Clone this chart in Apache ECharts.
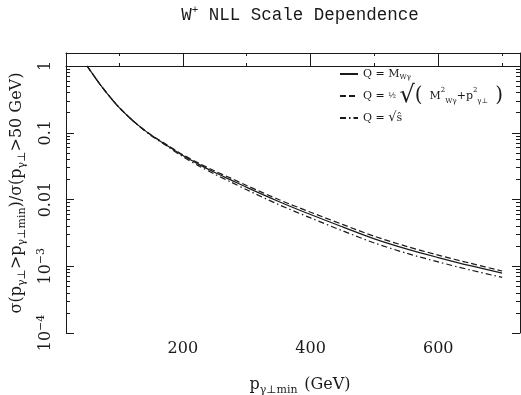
<!DOCTYPE html>
<html>
<head>
<meta charset="utf-8">
<script src="https://cdn.jsdelivr.net/npm/echarts@6.0.0/dist/echarts.min.js"></script>
<style>html,body{margin:0;padding:0;background:#fff}#c{width:521px;height:395px}</style>
</head>
<body>
<div id="c"></div>
<script>
// ---- data ----
const pT = [50, 60, 70, 80, 90, 100, 115, 130, 150, 175, 200, 225, 250, 275, 300, 350, 400, 450, 500, 550, 600, 650, 700];
const qMWg = [1.0, 0.73, 0.537, 0.403, 0.309, 0.240, 0.174, 0.130, 0.0923, 0.0646, 0.0455, 0.0336, 0.0254, 0.0197, 0.0152, 0.00935, 0.00595, 0.00389, 0.00257, 0.00182, 0.00135, 0.00102, 0.00079];
const qHalfSqrt = [1.0, 0.73, 0.537, 0.403, 0.309, 0.240, 0.174, 0.130, 0.0935, 0.066, 0.0468, 0.0350, 0.0267, 0.0209, 0.0162, 0.0100, 0.00645, 0.00424, 0.00281, 0.00199, 0.00147, 0.00111, 0.00085];
const qSqrtS = [1.0, 0.73, 0.537, 0.403, 0.309, 0.240, 0.173, 0.129, 0.091, 0.0632, 0.0438, 0.0319, 0.0239, 0.0183, 0.0140, 0.0084, 0.0053, 0.0034, 0.00223, 0.00157, 0.00116, 0.00088, 0.00068];
const seriesNames = ['Q = M_Wg', 'Q = half sqrt', 'Q = sqrt s'];
const xMajorTicks = [200, 400, 600];
const xMinorTicks = [100, 300, 500, 700];

const X_MIN = 17, X_MAX = 728;
const Y_MIN = 1e-4, Y_MAX = 1.567;
const LMIN = Math.log10(Y_MIN), LMAX = Math.log10(Y_MAX);
const yMinorLog = [];
for (let n = -4; n <= 0; n++) for (let k = 2; k <= 9; k++) {
  const v = Math.log10(k) + n; if (v < LMAX) yMinorLog.push(v);
}

const SERIF = '"DejaVu Serif", "Liberation Serif", serif';
const INK = '#1a1a1a';

const legendText = {};
legendText[seriesNames[0]] = 'Q = M{sub|Wγ}';
legendText[seriesNames[1]] = 'Q = {fr|½} {big|√}{par|(}  M{sup|2}{sub|Wγ}+p{sup|2}{sub|γ⊥}  {par|)}';
legendText[seriesNames[2]] = 'Q = {big2|√}ŝ';

function ylab(v) {
  const e = Math.round(Math.log10(v));
  if (e === 0) return '{b|1}';
  if (e === -1) return '{b|0.1}';
  if (e === -2) return '{b|0.01}';
  return '{b|10}{s|−' + (-e) + '}';
}

const chart = echarts.init(document.getElementById('c'), null, {renderer: 'canvas'});
const axisLine = {show: true, lineStyle: {color: INK, width: 1}};
function xAx(pos, major, withLabel) {
  return {
    type: 'value', min: X_MIN, max: X_MAX, position: pos,
    axisLine: major ? axisLine : {show: false},
    splitLine: {show: false},
    axisTick: {show: true, inside: true, length: major ? 7 : 3, customValues: major ? xMajorTicks : xMinorTicks, lineStyle: {color: INK}},
    axisLabel: withLabel ? {show: true, customValues: xMajorTicks, fontFamily: SERIF, fontSize: 16, color: INK, margin: 8} : {show: false},
    name: withLabel ? '{b|p}{s|γ⊥min}  {b|(GeV)}' : '',
    nameLocation: 'middle', nameGap: 41,
    nameTextStyle: withLabel ? {padding: [0, 0, 0, 14], rich: {b: {fontFamily: SERIF, fontSize: 16, color: INK, lineHeight: 22}, s: {fontFamily: SERIF, fontSize: 11, color: INK, verticalAlign: 'bottom', lineHeight: 9}}} : {}
  };
}
function yLogAx(pos, withLabel) {
  return {
    type: 'log', logBase: 10, min: Y_MIN, max: Y_MAX, position: pos,
    axisLine: axisLine, splitLine: {show: false}, minorTick: {show: false},
    axisTick: {show: true, inside: true, length: 8, lineStyle: {color: INK}},
    axisLabel: withLabel ? {
      show: true, rotate: 90, margin: 10, showMaxLabel: false, formatter: ylab,
      rich: {b: {fontFamily: SERIF, fontSize: 16, color: INK, lineHeight: 20}, s: {fontFamily: SERIF, fontSize: 11, color: INK, verticalAlign: 'top', lineHeight: 10}}
    } : {show: false},
    name: withLabel ? 'σ(p{s|γ⊥}>p{s|γ⊥min})/σ(p{s|γ⊥}>50 GeV)' : '',
    nameLocation: 'middle', nameGap: 30, nameRotate: 90,
    nameTextStyle: withLabel ? {fontFamily: SERIF, fontSize: 16, color: INK, lineHeight: 22, rich: {s: {fontFamily: SERIF, fontSize: 11, color: INK, verticalAlign: 'bottom', lineHeight: 9}}} : {}
  };
}
function yMinorAx(pos) {
  return {
    type: 'value', min: LMIN, max: LMAX, position: pos,
    axisLine: {show: false}, splitLine: {show: false},
    axisTick: {show: true, inside: true, length: 4, customValues: yMinorLog, lineStyle: {color: INK}},
    axisLabel: {show: false}
  };
}
function pairs(ys) { return pT.map((x, i) => [x, ys[i]]); }

const option = {
  animation: false,
  backgroundColor: '#fff',
  title: {
    text: 'W{sup|+} NLL Scale Dependence', left: 295, textAlign: 'center', top: 0,
    textStyle: {fontFamily: '"Liberation Mono", "DejaVu Sans Mono", monospace', fontSize: 17.5, fontWeight: 'normal', color: INK, lineHeight: 20,
      rich: {sup: {fontFamily: '"Liberation Mono", monospace', fontSize: 11, color: INK, verticalAlign: 'top', lineHeight: 12}}}
  },
  grid: {left: 66, right: 1, top: 53, bottom: 62, containLabel: false, outerBoundsMode: 'none'},
  legend: {
    orient: 'vertical', left: 334, top: 62, itemWidth: 18, itemHeight: 10, itemGap: 3,
    data: seriesNames,
    itemStyle: {opacity: 0},
    formatter: n => legendText[n],
    textStyle: {fontFamily: SERIF, fontSize: 11, color: INK, lineHeight: 14,
      rich: {
        sub: {fontFamily: SERIF, fontSize: 7, color: INK, verticalAlign: 'bottom', lineHeight: 7},
        sup: {fontFamily: SERIF, fontSize: 7, color: INK, verticalAlign: 'top', lineHeight: 7},
        fr: {fontFamily: SERIF, fontSize: 8, color: INK},
        big: {fontFamily: SERIF, fontSize: 24, color: INK, lineHeight: 18},
        big2: {fontFamily: SERIF, fontSize: 13, color: INK, lineHeight: 14},
        par: {fontFamily: SERIF, fontSize: 20, color: INK, lineHeight: 18}
      }}
  },
  xAxis: [xAx('bottom', true, true), xAx('bottom', false, false), xAx('top', true, false), xAx('top', false, false)],
  yAxis: [yLogAx('left', true), yMinorAx('left'), yLogAx('right', false), yMinorAx('right')],
  series: [
    {name: seriesNames[0], type: 'line', data: pairs(qMWg), smooth: 0.3, symbol: 'none', lineStyle: {color: INK, width: 1.2, type: 'solid'}, itemStyle: {color: INK}},
    {name: seriesNames[1], type: 'line', data: pairs(qHalfSqrt), smooth: 0.3, symbol: 'none', lineStyle: {color: INK, width: 1.2, type: [6, 3]}, itemStyle: {color: INK}},
    {name: seriesNames[2], type: 'line', data: pairs(qSqrtS), smooth: 0.3, symbol: 'none', lineStyle: {color: INK, width: 1.2, type: [6, 3, 1.5, 3]}, itemStyle: {color: INK}}
  ]
};
chart.setOption(option);
</script>
</body>
</html>
